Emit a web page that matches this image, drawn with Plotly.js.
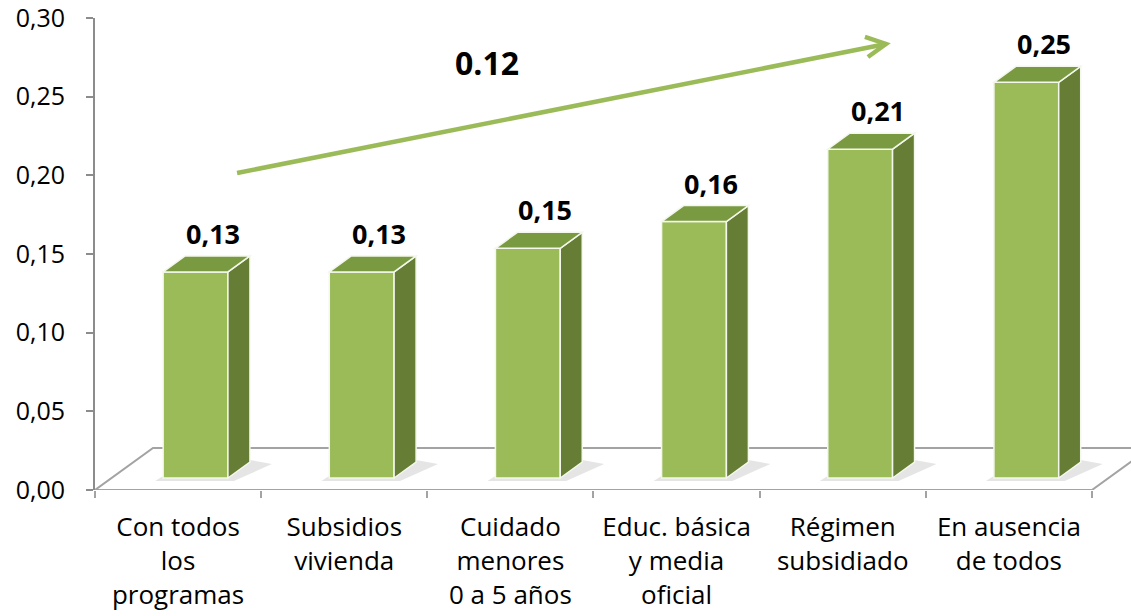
<!DOCTYPE html>
<html><head><meta charset="utf-8">
<script src="https://cdn.plot.ly/plotly-3.0.1.min.js"></script>
<style>html,body{margin:0;padding:0;background:#fff;}#chart{width:1131px;height:616px;}</style>
</head><body><div id="chart"></div>
<script>
// ---- data ----
const categories = ["Con todos<br>los<br>programas", "Subsidios<br>vivienda", "Cuidado<br>menores<br>0 a 5 años",
                    "Educ. básica<br>y media<br>oficial", "Régimen<br>subsidiado", "En ausencia<br>de todos"];
const values = [0.131, 0.131, 0.146, 0.163, 0.209, 0.2515];
const yTickVals = [0, 0.05, 0.10, 0.15, 0.20, 0.25, 0.30];
// trend arrow (category index, value)
const arrowFrom = [0.355, 0.2015];
const arrowTo = [4.26, 0.2835];
const trendLabelPos = [1.86, 0.272];

// ---- geometry (pixel -> data helpers) ----
const W = 1131, H = 616, ML = 95, MR = 0, MT = 18, MB = 126;
const xRange = [-0.5, 5.735], yRange = [0, 0.30];
const pxX = (W - ML - MR) / (xRange[1] - xRange[0]);
const pxY = (H - MT - MB) / (yRange[1] - yRange[0]);
const dx = p => p / pxX, dy = p => p / pxY;

const BASE = dy(12);          // bar front bottom above floor front edge
const OFF = -0.09, BW = 0.39; // bar front face offset & width
const DDX = dx(22), DDY = dy(16); // bar depth
const FDX = dx(58), FDY = dy(42); // floor depth

const green = '#9BBB59', greenSide = '#657D34', greenTop = '#7A9A42';
const grayLine = '#A3A3A3';
const FONT = 'Open Sans, sans-serif';

const shapes = [];
// floor
const nCat = categories.length;
const xl = -0.5, xr = nCat - 0.5;
shapes.push({type: 'path', xref: 'x', yref: 'y', layer: 'below',
  path: `M${xl},0 L${xl + FDX},${FDY} L${xr + FDX},${FDY} L${xr},0`,
  line: {color: grayLine, width: 2}});
shapes.push({type: 'line', xref: 'x', yref: 'y', layer: 'below', x0: xl, x1: xr, y0: 0, y1: 0,
  line: {color: grayLine, width: 2}});

values.forEach((v, i) => {
  const fl = i + OFF, fr = fl + BW, b = BASE, t = BASE + v;
  // shadow on floor
  shapes.push({type: 'path', xref: 'x', yref: 'y', layer: 'below',
    path: `M${fl - dx(8)},${b - dy(3)} L${fr + dx(6)},${b - dy(3)} L${fr + DDX + dx(22)},${b + DDY - dy(2)} L${fr + DDX},${b + DDY + dy(2)} L${fl + DDX},${b + DDY} Z`,
    fillcolor: 'rgba(0,0,0,0.10)', line: {width: 0}});
  // side face
  shapes.push({type: 'path', xref: 'x', yref: 'y', layer: 'above',
    path: `M${fr},${b} L${fr + DDX},${b + DDY} L${fr + DDX},${t + DDY} L${fr},${t} Z`,
    fillcolor: greenSide, line: {color: '#F4F7EC', width: 1.5}});
  // top face
  shapes.push({type: 'path', xref: 'x', yref: 'y', layer: 'above',
    path: `M${fl},${t} L${fl + DDX},${t + DDY} L${fr + DDX},${t + DDY} L${fr},${t} Z`,
    fillcolor: greenTop, line: {color: '#F4F7EC', width: 1.5}});
});

// trend arrow
shapes.push({type: 'line', xref: 'x', yref: 'y', layer: 'above',
  x0: arrowFrom[0], y0: arrowFrom[1], x1: arrowTo[0], y1: arrowTo[1],
  line: {color: green, width: 4.5}});
shapes.push({type: 'path', xref: 'x', yref: 'y', layer: 'above',
  path: `M${arrowTo[0] - dx(21)},${arrowTo[1] + dy(7)} L${arrowTo[0]},${arrowTo[1]} L${arrowTo[0] - dx(18)},${arrowTo[1] - dy(13)}`,
  line: {color: green, width: 4.5}});

const annotations = values.map((v, i) => ({
  x: i + 0.21, y: v + BASE + DDY, xref: 'x', yref: 'y', yanchor: 'bottom', yshift: 2,
  text: v.toFixed(2).replace('.', ','), showarrow: false,
  font: {family: FONT, size: 27, color: '#000', weight: 'bold'}
}));
annotations.push({
  x: trendLabelPos[0], y: trendLabelPos[1], xref: 'x', yref: 'y',
  text: (values[values.length - 1] - values[0]).toFixed(2), showarrow: false,
  font: {family: FONT, size: 32, color: '#000', weight: 'bold'}
});

const trace = {
  type: 'bar', x: categories, y: values, base: BASE, width: BW, offset: OFF,
  marker: {color: green, line: {color: '#F4F7EC', width: 1.5}},
  hoverinfo: 'skip', cliponaxis: false
};

const layout = {
  width: W, height: H, margin: {l: ML, r: MR, t: MT, b: MB},
  paper_bgcolor: '#fff', plot_bgcolor: 'rgba(0,0,0,0)',
  separators: ',.', showlegend: false,
  font: {family: FONT, size: 25, color: '#000'},
  xaxis: {type: 'category', range: xRange, tickson: 'boundaries', ticks: 'outside', ticklen: 7,
          tickwidth: 2, tickcolor: grayLine, showline: false, showgrid: false, zeroline: false,
          tickangle: 0, ticklabelstandoff: 19, tickfont: {size: 26}, fixedrange: true,
          ticklabeloverflow: 'allow'},
  yaxis: {range: yRange, tickvals: yTickVals, tickformat: '.2f', ticks: 'outside', ticklen: 7,
          tickwidth: 2, tickcolor: '#8C8C8C', showline: true, linecolor: '#8C8C8C', linewidth: 2,
          showgrid: false, zeroline: false, ticklabelstandoff: 16, fixedrange: true,
          ticklabeloverflow: 'allow'},
  shapes: shapes, annotations: annotations
};

Plotly.newPlot('chart', [trace], layout, {staticPlot: true, displayModeBar: false});
</script></body></html>
